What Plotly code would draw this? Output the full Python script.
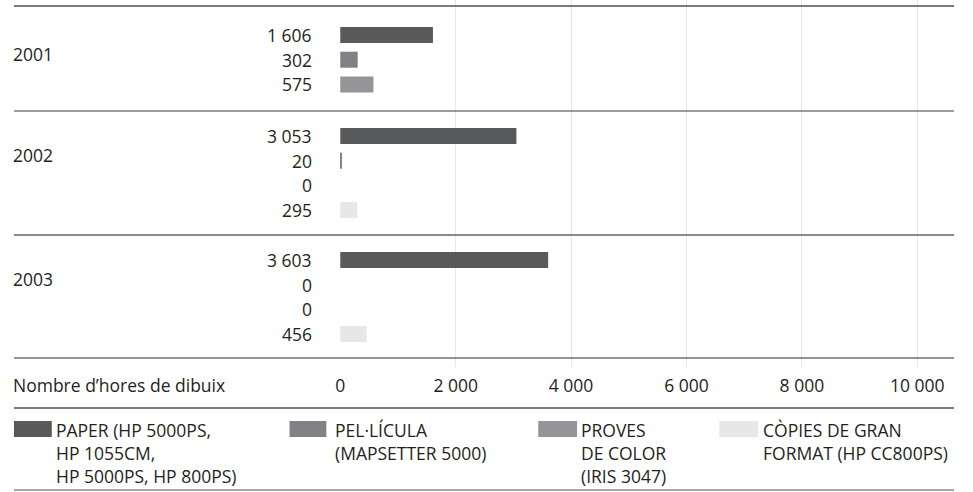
import plotly.graph_objects as go

# ---------------- data ----------------
years = ["2001", "2002", "2003"]
series_names = [
    ["PAPER (HP 5000PS,", "HP 1055CM,", "HP 5000PS, HP 800PS)"],
    ["PEL·LÍCULA", "(MAPSETTER 5000)"],
    ["PROVES", "DE COLOR", "(IRIS 3047)"],
    ["CÒPIES DE GRAN", "FORMAT (HP CC800PS)"],
]
paper_vals = [1606, 3053, 3603]
pelicula_vals = [302, 20, 0]
proves_vals = [575, 0, 0]
copies_vals = [None, 295, 456]
series_values = [paper_vals, pelicula_vals, proves_vals, copies_vals]
series_colors = ["#58595b", "#808285", "#939598", "#e6e7e8"]
tick_vals = [0, 2000, 4000, 6000, 8000, 10000]
axis_title = "Nombre d’hores de dibuix"

# ---------------- layout helpers ----------------
W, H = 973, 492
FONT = "Open Sans"
TXT = "#231f20"
FS = 17.5

x0_px, x_end_px = 337, 954          # x=0 pixel, right edge of plot
px_per_unit = (917 - 337) / 10000.0
xmax = (x_end_px - x0_px) / px_per_unit
axis_px = 367                        # bottom of plotting domain
group_first_row = [35, 136, 260]
row_pitch = 24.7
bar_h = 16


def fmt(v):
    return f"{v:,}".replace(",", " ")


def pyp(p):
    return 1 - p / H


def pxp(p):
    return p / W


fig = go.Figure()
annotations = []

# bars: one trace per series, y positions from group layout
for si, (name, vals, col) in enumerate(zip(series_names, series_values, series_colors)):
    ys, xs = [], []
    for gi, v in enumerate(vals):
        if v is None:
            continue
        ys.append(group_first_row[gi] + si * row_pitch)
        xs.append(v)
        annotations.append(dict(
            x=pxp(311), xref="paper", y=ys[-1], yref="y",
            text=fmt(v), showarrow=False, xanchor="right", yanchor="middle",
            font=dict(family=FONT, size=FS, color=TXT)))
    fig.add_trace(go.Bar(
        x=xs, y=ys, orientation="h", width=bar_h,
        marker=dict(color=col, line=dict(width=0)),
        name=" ".join(name), showlegend=False, hoverinfo="x"))

# year labels
for gi, yr in enumerate(years):
    annotations.append(dict(
        x=pxp(6), xref="paper", y=group_first_row[gi] + 18.5, yref="y",
        text=yr, showarrow=False, xanchor="left", yanchor="middle",
        font=dict(family=FONT, size=FS, color=TXT)))

# axis title on the left
annotations.append(dict(
    x=pxp(6), xref="paper", y=pyp(385), yref="paper",
    text=axis_title, showarrow=False, xanchor="left", yanchor="middle",
    font=dict(family=FONT, size=FS, color=TXT)))

# legend (manual)
sw_x = [(9, 47), (286, 323), (536, 575), (718, 757)]
txt_x = [49, 330, 577, 760]
shapes = []
for (a, b), tx, name, col in zip(sw_x, txt_x, series_names, series_colors):
    shapes.append(dict(type="rect", xref="paper", yref="paper",
                       x0=pxp(a), x1=pxp(b), y0=pyp(437), y1=pyp(421),
                       fillcolor=col, line=dict(width=0)))
    annotations.append(dict(
        x=pxp(tx), xref="paper", y=pyp(416), yref="paper",
        text="<br>".join(name), showarrow=False, xanchor="left", yanchor="top",
        align="left", font=dict(family=FONT, size=FS, color=TXT)))

# horizontal rules
rules = [(6, "#7a7a7a", 2), (111, "#3a3a3a", 1.2), (235, "#8a8a8a", 1.8),
         (358, "#2a2a2a", 1.2), (408, "#7a7a7a", 1.8), (490, "#8a8a8a", 1.6)]
for yp, col, w in rules:
    shapes.append(dict(type="line", xref="paper", yref="paper",
                       x0=pxp(9), x1=pxp(954), y0=pyp(yp), y1=pyp(yp),
                       line=dict(color=col, width=w), layer="above"))

fig.update_layout(
    width=W, height=H,
    margin=dict(l=0, r=0, t=0, b=0),
    paper_bgcolor="white", plot_bgcolor="white",
    barmode="overlay",
    annotations=annotations,
    shapes=shapes,
    xaxis=dict(domain=[pxp(x0_px) - 0.0003, pxp(x_end_px)], range=[-5, xmax],
               tickvals=tick_vals, ticktext=[fmt(v) for v in tick_vals],
               showgrid=True, gridcolor="#e8e8e8", gridwidth=1, zeroline=False,
               showline=False, ticks="outside", ticklen=3,
               tickcolor="rgba(0,0,0,0)",
               tickfont=dict(family=FONT, size=FS, color=TXT)),
    yaxis=dict(domain=[1 - axis_px / H, 1], range=[axis_px, 0],
               showgrid=False, zeroline=False, showticklabels=False,
               showline=False, ticks=""),
    font=dict(family=FONT, size=FS, color=TXT),
)

fig.write_html("out.html", config={"displayModeBar": False},
               post_script="document.body.style.margin='0';")
